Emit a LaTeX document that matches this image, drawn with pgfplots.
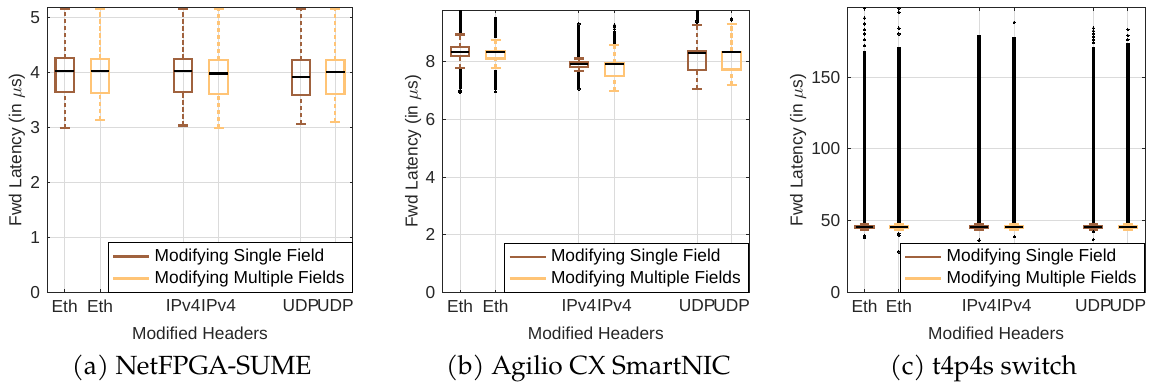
\documentclass[border=0pt]{standalone}
\usepackage{pgfplots}
\pgfplotsset{compat=1.18}
\usepgfplotslibrary{statistics}
\usepackage{fontspec}
\setmainfont{Liberation Sans}
\newfontfamily\capfont{TeX Gyre Pagella}
\definecolor{cS}{RGB}{160,98,62}
\definecolor{cM}{RGB}{255,196,118}
\definecolor{txt}{RGB}{38,38,38}
\pgfplotsset{
  panel/.style={
    scale only axis, anchor=south west,
    xmin=0.5, xmax=9.15, ymin=0,
    xtick={1,2,4.35,5.35,7.68,8.65},
    xticklabels={Eth,Eth,IPv4,IPv4,UDP,UDP},
    tick align=inside, major tick length=1.6bp,
    every tick/.style={txt, line width=0.5bp},
    axis line style={txt, line width=0.5bp},
    grid=major, major grid style={black!14, line width=0.5bp},
    tick label style={text=txt, font=\fontsize{8.7}{10}\selectfont},
    /pgf/number format/assume math mode=true,
    label style={text=txt, font=\fontsize{8.7}{10}\selectfont},
    xlabel={Modified Headers},
    ylabel={Fwd Latency (in $\mu$s)},
    xlabel style={at={(axis description cs:0.5,0)}, anchor=center, yshift=-20.5bp},
    clip marker paths=true,
    legend style={at={(rel axis cs:1,0)}, anchor=south east, draw=black, line width=0.5bp,
      text=black, font=\fontsize{8.7}{10}\selectfont, inner xsep=2bp, inner ysep=1bp, row sep=-1bp},
    legend cell align=left,
  },
  lgimg/.style={legend image code/.code={\draw[##1, line width=1.3bp] (0bp,0bp) -- (18bp,0bp);}},
  bx/.style={solid, line width=1.1bp, forget plot,
    boxplot/draw direction=y,
    mark=*, mark size=0.6bp, mark options={draw=black, fill=black, solid, line width=0pt},
    boxplot/box extend=0.52, boxplot/whisker extend=0.28,
    boxplot/every median/.style={black, line width=1.1bp},
    boxplot/every whisker/.style={line width=1.1bp},
    boxplot/draw/lower whisker/.code={%
      \draw[/pgfplots/boxplot/every whisker/.try, dash pattern=on 2.1bp off 1.4bp]
        (boxplot cs:\pgfplotsboxplotvalue{lower whisker}) -- (boxplot cs:\pgfplotsboxplotvalue{lower quartile});
      \draw[/pgfplots/boxplot/every whisker/.try]
        (boxplot whisker cs:\pgfplotsboxplotvalue{lower whisker},0) -- (boxplot whisker cs:\pgfplotsboxplotvalue{lower whisker},1);
    },
    boxplot/draw/upper whisker/.code={%
      \draw[/pgfplots/boxplot/every whisker/.try, dash pattern=on 2.1bp off 1.4bp]
        (boxplot cs:\pgfplotsboxplotvalue{upper quartile}) -- (boxplot cs:\pgfplotsboxplotvalue{upper whisker});
      \draw[/pgfplots/boxplot/every whisker/.try]
        (boxplot whisker cs:\pgfplotsboxplotvalue{upper whisker},0) -- (boxplot whisker cs:\pgfplotsboxplotvalue{upper whisker},1);
    },
  },
}
\begin{document}
\begin{tikzpicture}
\useasboundingbox (0,0) rectangle (575.5bp,192.5bp);
% ---------------- (a) NetFPGA-SUME
\begin{axis}[panel, at={(23.5bp,46.25bp)}, width=153bp, height=142.75bp,
  ymax=5.2, ytick={0,1,2,3,4,5},
  ylabel style={at={(axis description cs:-0.098,0.5)}, anchor=center}]
\addplot[bx, cS, boxplot prepared={draw position=1, lower whisker=2.99, lower quartile=3.65, median=4.03, upper quartile=4.27, upper whisker=5.17}] table[row sep=\\, y index=0] {d\\5.21\\};
\addplot[bx, cM, boxplot prepared={draw position=2, lower whisker=3.14, lower quartile=3.64, median=4.03, upper quartile=4.26, upper whisker=5.17}] table[row sep=\\, y index=0] {d\\5.21\\};
\addplot[bx, cS, boxplot prepared={draw position=4.35, lower whisker=3.04, lower quartile=3.65, median=4.03, upper quartile=4.26, upper whisker=5.17}] table[row sep=\\, y index=0] {d\\5.21\\};
\addplot[bx, cM, boxplot prepared={draw position=5.35, lower whisker=2.99, lower quartile=3.62, median=3.99, upper quartile=4.24, upper whisker=5.17}] table[row sep=\\, y index=0] {d\\5.21\\};
\addplot[bx, cS, boxplot prepared={draw position=7.68, lower whisker=3.07, lower quartile=3.59, median=3.93, upper quartile=4.23, upper whisker=5.16}] table[row sep=\\, y index=0] {d\\5.21\\};
\addplot[bx, cM, boxplot prepared={draw position=8.65, lower whisker=3.11, lower quartile=3.61, median=4.02, upper quartile=4.24, upper whisker=5.17}] table[row sep=\\, y index=0] {d\\5.21\\};
\addlegendimage{lgimg, cS}\addlegendentry{Modifying Single Field}
\addlegendimage{lgimg, cM}\addlegendentry{Modifying Multiple Fields}
\end{axis}
% ---------------- (b) Agilio CX SmartNIC
\begin{axis}[panel, at={(221.15bp,46.15bp)}, width=153.5bp, height=141.35bp,
  ymax=9.78, ytick={0,2,4,6,8},
  ylabel style={at={(axis description cs:-0.095,0.5)}, anchor=center}]
\addplot[bx, cS, boxplot prepared={draw position=1, lower whisker=7.78, lower quartile=8.19, median=8.34, upper quartile=8.50, upper whisker=8.93}] table[row sep=\\, y index=0] {d\\7.00\\6.95\\6.92\\};
\addplot[black, line width=1.5bp, forget plot] coordinates {(1,8.97) (1,9.78)};
\addplot[black, line width=1.5bp, forget plot] coordinates {(1,7.74) (1,7.05)};
\addplot[bx, cM, boxplot prepared={draw position=2, lower whisker=7.78, lower quartile=8.10, median=8.33, upper quartile=8.37, upper whisker=8.75}] table[row sep=\\, y index=0] {d\\6.96\\};
\addplot[black, line width=1.5bp, forget plot] coordinates {(2,8.80) (2,9.54)};
\addplot[black, line width=1.5bp, forget plot] coordinates {(2,7.72) (2,7.00)};
\addplot[bx, cS, boxplot prepared={draw position=4.35, lower whisker=7.68, lower quartile=7.82, median=7.91, upper quartile=7.97, upper whisker=8.10}] table[row sep=\\, y index=0] {d\\9.30\\7.05\\};
\addplot[black, line width=1.5bp, forget plot] coordinates {(4.35,8.14) (4.35,9.25)};
\addplot[black, line width=1.5bp, forget plot] coordinates {(4.35,7.64) (4.35,7.08)};
\addplot[bx, cM, boxplot prepared={draw position=5.35, lower whisker=6.98, lower quartile=7.50, median=7.90, upper quartile=7.95, upper whisker=8.57}] table[row sep=\\, y index=0] {d\\9.12\\9.20\\9.26\\};
\addplot[black, line width=1.5bp, forget plot] coordinates {(5.35,8.62) (5.35,9.05)};
\addplot[bx, cS, boxplot prepared={draw position=7.68, lower whisker=7.04, lower quartile=7.70, median=8.28, upper quartile=8.36, upper whisker=9.26}] table[row sep=\\, y index=0] {d\\9.36\\9.40\\};
\addplot[black, line width=1.5bp, forget plot] coordinates {(7.68,9.45) (7.68,9.78)};
\addplot[bx, cM, boxplot prepared={draw position=8.65, lower whisker=7.18, lower quartile=7.72, median=8.32, upper quartile=8.34, upper whisker=9.30}] table[row sep=\\, y index=0] {d\\9.43\\9.48\\};
\addlegendimage{lgimg, cS}\addlegendentry{Modifying Single Field}
\addlegendimage{lgimg, cM}\addlegendentry{Modifying Multiple Fields}
\end{axis}
% ---------------- (c) t4p4s switch
\begin{axis}[panel, at={(423.65bp,46.15bp)}, width=148.85bp, height=142.7bp,
  ymax=198.5, ytick={0,50,100,150},
  xtick={1,2,4.33,5.35,7.65,8.65},
  ylabel style={at={(axis description cs:-0.165,0.5)}, anchor=center}]
\addplot[black, line width=1.8bp, forget plot] coordinates {(1,47.5) (1,168)};
\addplot[black, line width=1.8bp, forget plot] coordinates {(2,47.5) (2,171)};
\addplot[black, line width=1.8bp, forget plot] coordinates {(4.33,47.5) (4.33,179)};
\addplot[black, line width=1.8bp, forget plot] coordinates {(5.35,47.5) (5.35,178)};
\addplot[black, line width=1.8bp, forget plot] coordinates {(7.65,47.5) (7.65,171)};
\addplot[black, line width=1.8bp, forget plot] coordinates {(8.65,47.5) (8.65,174)};
\addplot[bx, cS, boxplot prepared={draw position=1, lower whisker=44, lower quartile=45, median=45.5, upper quartile=46, upper whisker=47.5}] table[row sep=\\, y index=0] {d\\172\\176\\180\\183\\187\\191\\198\\38.5\\39.5\\};
\addplot[bx, cM, boxplot prepared={draw position=2, lower whisker=44, lower quartile=45, median=45.5, upper quartile=46, upper whisker=47.5}] table[row sep=\\, y index=0] {d\\180\\184\\195\\198\\40\\41\\28.4\\};
\addplot[bx, cS, boxplot prepared={draw position=4.33, lower whisker=44, lower quartile=45, median=45.5, upper quartile=46, upper whisker=47.5}] table[row sep=\\, y index=0] {d\\36.6\\};
\addplot[bx, cM, boxplot prepared={draw position=5.35, lower whisker=44, lower quartile=45, median=45.5, upper quartile=46, upper whisker=47.5}] table[row sep=\\, y index=0] {d\\188\\38.9\\};
\addplot[bx, cS, boxplot prepared={draw position=7.65, lower whisker=44, lower quartile=45, median=45.5, upper quartile=46, upper whisker=47.5}] table[row sep=\\, y index=0] {d\\174\\176\\178\\180\\182\\184\\42.4\\37.1\\};
\addplot[bx, cM, boxplot prepared={draw position=8.65, lower whisker=44, lower quartile=45, median=45.5, upper quartile=46, upper whisker=47.5}] table[row sep=\\, y index=0] {d\\176\\179\\183\\};
\addlegendimage{lgimg, cS}\addlegendentry{Modifying Single Field}
\addlegendimage{lgimg, cM}\addlegendentry{Modifying Multiple Fields}
\end{axis}
% captions
\node[font=\capfont\fontsize{13.2}{15}\selectfont, anchor=center] at (95.85bp,8.5bp) {(a) NetFPGA-SUME};
\node[font=\capfont\fontsize{13.2}{15}\selectfont, anchor=center] at (294.2bp,8.5bp) {(b) Agilio CX SmartNIC};
\node[font=\capfont\fontsize{13.2}{15}\selectfont, anchor=center] at (491.7bp,8.5bp) {(c) t4p4s switch};
\end{tikzpicture}
\end{document}
